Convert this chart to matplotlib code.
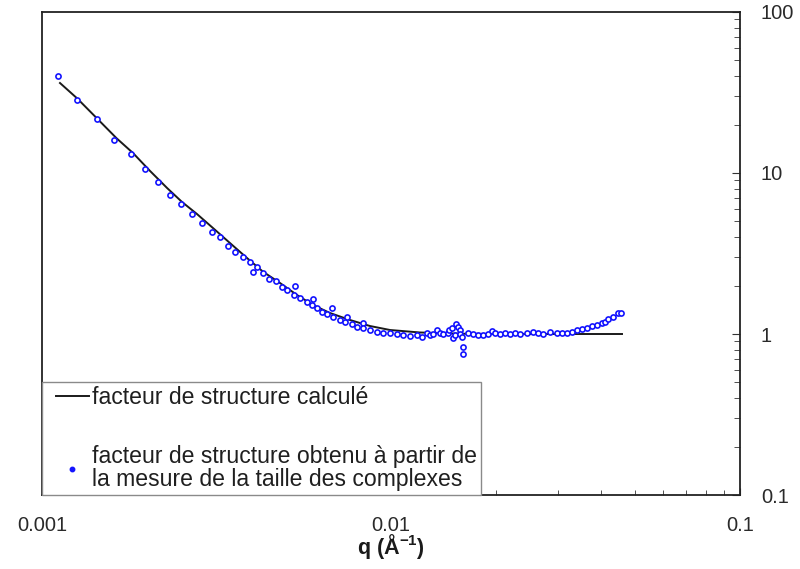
import matplotlib
matplotlib.use("Agg")
import matplotlib.pyplot as plt
from matplotlib.lines import Line2D
from matplotlib.legend_handler import HandlerLine2D
from matplotlib.ticker import FixedLocator, FixedFormatter, LogLocator, NullFormatter

plt.rcParams['font.family'] = ['Liberation Sans', 'DejaVu Sans']
plt.rcParams['mathtext.fontset'] = 'custom'
plt.rcParams['mathtext.bf'] = 'Liberation Sans:bold'
plt.rcParams['mathtext.rm'] = 'Liberation Sans'

# Calculated structure factor S(q)
q_calc = [0.001126, 0.001260, 0.001435, 0.001637, 0.001823, 0.002040, 0.002282,
          0.002518, 0.002780, 0.003090, 0.003457, 0.003867, 0.004297, 0.004807,
          0.005378, 0.005977, 0.006686, 0.007628, 0.008706, 0.009933, 0.01210,
          0.01576, 0.02053, 0.04591]
s_calc = [36.2, 29.1, 21.9, 16.4, 13.3, 10.29, 8.07, 6.61, 5.56, 4.55, 3.67,
          2.965, 2.438, 2.074, 1.747, 1.514, 1.350, 1.222, 1.121, 1.059, 1.022,
          1.004, 1.000, 1.000]

# Structure factor obtained from the measured complex sizes
q_meas = [0.001115, 0.001262, 0.001435, 0.001612, 0.001796, 0.001969, 0.002154,
          0.002327, 0.002510, 0.002685, 0.002869, 0.003063, 0.003236, 0.003419,
          0.003584, 0.003759, 0.003945, 0.004031, 0.004140, 0.004307, 0.004481,
          0.004683, 0.004872, 0.005051, 0.005307, 0.005273, 0.005486, 0.005735,
          0.005927, 0.005990, 0.006125, 0.006330, 0.006543, 0.006763, 0.006835,
          0.007144, 0.007383, 0.007481, 0.007717, 0.007976, 0.008286, 0.008330,
          0.008706, 0.009100, 0.009504, 0.009934, 0.01038, 0.01084, 0.01134,
          0.01185, 0.01225, 0.01266, 0.01293, 0.01319, 0.01352, 0.01381, 0.01412,
          0.01457, 0.01469, 0.01492, 0.01506, 0.01526, 0.01536, 0.01556, 0.01577,
          0.01577, 0.01595, 0.01612, 0.01612, 0.01666, 0.01721, 0.01779, 0.01839,
          0.01900, 0.01943, 0.01986, 0.02053, 0.02121, 0.02193, 0.02266, 0.02342,
          0.02447, 0.02557, 0.02643, 0.02730, 0.02855, 0.02984, 0.03084, 0.03187,
          0.03294, 0.03405, 0.03517, 0.03635, 0.03757, 0.03882, 0.04012, 0.04104,
          0.04194, 0.04336, 0.04481, 0.04547]
s_meas = [39.76, 28.53, 21.65, 16.10, 13.07, 10.59, 8.795, 7.333, 6.420, 5.563,
          4.912, 4.319, 3.987, 3.495, 3.231, 3.008, 2.813, 2.427, 2.607, 2.382,
          2.196, 2.119, 1.958, 1.876, 1.987, 1.747, 1.662, 1.587, 1.514, 1.650,
          1.444, 1.375, 1.322, 1.444, 1.270, 1.230, 1.192, 1.281, 1.154, 1.110,
          1.166, 1.085, 1.059, 1.033, 1.019, 1.010, 1.000, 0.986, 0.972, 0.982,
          0.958, 1.010, 0.986, 1.000, 1.059, 1.019, 1.000, 1.019, 1.059, 1.085,
          0.944, 0.986, 1.162, 1.105, 1.059, 1.000, 0.958, 0.830, 0.751, 1.010,
          1.000, 0.986, 0.986, 1.000, 1.044, 1.010, 1.000, 1.010, 1.000, 1.019,
          1.000, 1.010, 1.033, 1.010, 1.000, 1.025, 1.010, 1.019, 1.014, 1.036,
          1.059, 1.074, 1.097, 1.121, 1.137, 1.176, 1.192, 1.234, 1.284, 1.345,
          1.356]

x_ticks = [0.001, 0.01, 0.1]
x_tick_labels = ["0.001", "0.01", "0.1"]
y_ticks = [0.1, 1, 10, 100]
y_tick_labels = ["0.1", "1", "10", "100"]

label_calc = "facteur de structure calculé"
label_meas = "facteur de structure obtenu à partir de\nla mesure de la taille des complexes"

fig = plt.figure(figsize=(8.0, 5.69), dpi=100)
ax = fig.add_axes([0.0525, 0.130, 0.8725, 0.849])

ax.plot(q_calc, s_calc, color='#1a1a1a', lw=1.4, zorder=2)
ax.plot(q_meas, s_meas, ls='none', marker='o', ms=3.7, mfc='white',
        mec='#1414ff', mew=1.2, zorder=3)

ax.set_xscale('log')
ax.set_yscale('log')
ax.set_xlim(0.001, 0.1)
ax.set_ylim(0.1, 100)

ax.xaxis.set_major_locator(FixedLocator(x_ticks))
ax.xaxis.set_major_formatter(FixedFormatter(x_tick_labels))
ax.xaxis.set_minor_locator(LogLocator(base=10, subs=range(2, 10)))
ax.xaxis.set_minor_formatter(NullFormatter())
ax.yaxis.set_major_locator(FixedLocator(y_ticks))
ax.yaxis.set_major_formatter(FixedFormatter(y_tick_labels))
ax.yaxis.set_minor_locator(LogLocator(base=10, subs=range(2, 10)))
ax.yaxis.set_minor_formatter(NullFormatter())

ax.yaxis.tick_right()
ax.tick_params(axis='both', which='both', direction='in', colors='#333333',
               labelcolor='#2a2a2a', labelsize=14.5)
ax.tick_params(axis='x', which='major', length=5, pad=15)
ax.tick_params(axis='x', which='minor', length=3.5)
ax.tick_params(axis='y', which='major', length=5.5, pad=15)
ax.tick_params(axis='y', which='minor', length=4)
ax.tick_params(axis='y', which='both', left=False, right=True)
ax.tick_params(axis='x', which='both', top=False, bottom=True)

for sp in ax.spines.values():
    sp.set_color('#222222')
    sp.set_linewidth(1.3)

ax.set_xlabel(r"q ($\mathbf{\AA^{-1}}$)", fontsize=15.5, fontweight='bold',
              color='#1a1a1a')
ax.xaxis.set_label_coords(0.5, -0.076)

h_line = Line2D([], [], color='#1a1a1a', lw=1.4)
h_mark = Line2D([], [], ls='none', marker='o', ms=3.2, mfc='#1414ff', mec='#1414ff')
leg = ax.legend([h_line, h_mark], [label_calc, label_meas], loc='lower left',
                bbox_to_anchor=(0, 0), borderaxespad=0, fancybox=False,
                framealpha=1, edgecolor='#8a8a8a', fontsize=16.6,
                handlelength=1.85, handletextpad=0.15, borderpad=0.18,
                labelspacing=1.55, labelcolor='#1f1f1f',
                handler_map={h_line: HandlerLine2D(xpad=0.42),
                             h_mark: HandlerLine2D(xpad=0.42)})
leg.get_frame().set_linewidth(1.0)
for t in leg.get_texts():
    t.set_linespacing(0.99)

fig.savefig("out.png", dpi=100)
